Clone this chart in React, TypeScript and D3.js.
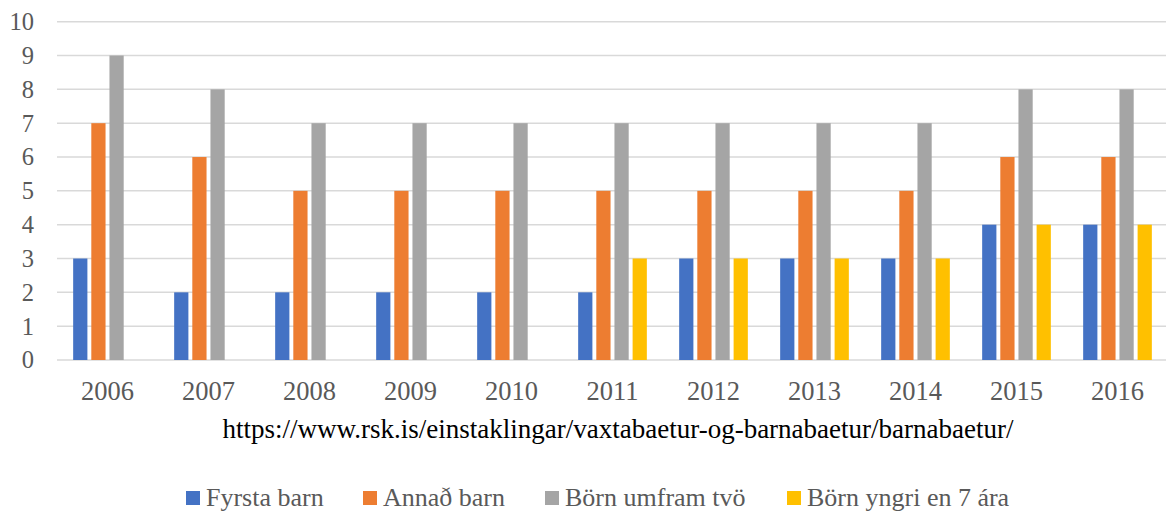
import React from "react";
import * as d3 from "d3";

const years = ["2006", "2007", "2008", "2009", "2010", "2011", "2012", "2013", "2014", "2015", "2016"];
const seriesNames = ["Fyrsta barn", "Annað barn", "Börn umfram tvö", "Börn yngri en 7 ára"];
const fyrstaBarn = [3, 2, 2, 2, 2, 2, 3, 3, 3, 4, 4];
const annadBarn = [7, 6, 5, 5, 5, 5, 5, 5, 5, 6, 6];
const bornUmframTvo = [9, 8, 7, 7, 7, 7, 7, 7, 7, 8, 8];
const bornYngri7 = [null, null, null, null, null, 3, 3, 3, 3, 4, 4];
const yTicks = [0, 1, 2, 3, 4, 5, 6, 7, 8, 9, 10];
const sourceText = "https://www.rsk.is/einstaklingar/vaxtabaetur-og-barnabaetur/barnabaetur/";
const colors = ["#4472C4", "#ED7D31", "#A5A5A5", "#FFC000"];

const W = 1166;
const H = 514;
const FONT = '"Liberation Serif", "Times New Roman", "DejaVu Serif", serif';

export default function App() {
  const allSeries = [fyrstaBarn, annadBarn, bornUmframTvo, bornYngri7];
  const x0 = d3.scaleBand<string>().domain(years).range([57, 1168]).paddingInner(0.32).paddingOuter(0.16);
  const x1 = d3.scaleBand<string>().domain(seriesNames).range([0, x0.bandwidth()]).paddingInner(0.216);
  const y = d3.scaleLinear().domain([0, 10]).range([360, 21.7]);

  const legendX = [186, 363, 545, 787];
  const txt = { fontFamily: FONT } as React.CSSProperties;

  return (
    <svg width={W} height={H} style={{ position: "absolute", left: 0, top: 0, background: "#fff", fontFamily: FONT }}>
      {yTicks.map((t) => (
        <g key={t}>
          <line x1={57} x2={1166} y1={y(t)} y2={y(t)} stroke="#d9d9d9" strokeWidth={1.5} />
          <text x={34} y={y(t)} dy="0.34em" textAnchor="end" fontSize={24.5} fill="#595959" style={txt}>{t}</text>
        </g>
      ))}
      {years.map((yr, i) => (
        <g key={yr}>
          {allSeries.map((s, si) => {
            const v = s[i];
            if (v == null) return null;
            const bx = (x0(yr) as number) + (x1(seriesNames[si]) as number);
            return (
              <rect key={si} x={bx} y={y(v)} width={x1.bandwidth()} height={y(0) - y(v)} fill={colors[si]} />
            );
          })}
          <text x={(x0(yr) as number) + x0.bandwidth() / 2} y={400} textAnchor="middle" fontSize={26.5} fill="#595959" style={txt}>{yr}</text>
        </g>
      ))}
      <text x={618} y={438} textAnchor="middle" fontSize={27} fill="#000" style={txt}>{sourceText}</text>
      {seriesNames.map((n, i) => (
        <g key={n}>
          <rect x={legendX[i]} y={491} width={14} height={14} fill={colors[i]} />
          <text x={legendX[i] + 20} y={506} fontSize={26} fill="#595959" style={txt}>{n}</text>
        </g>
      ))}
    </svg>
  );
}
